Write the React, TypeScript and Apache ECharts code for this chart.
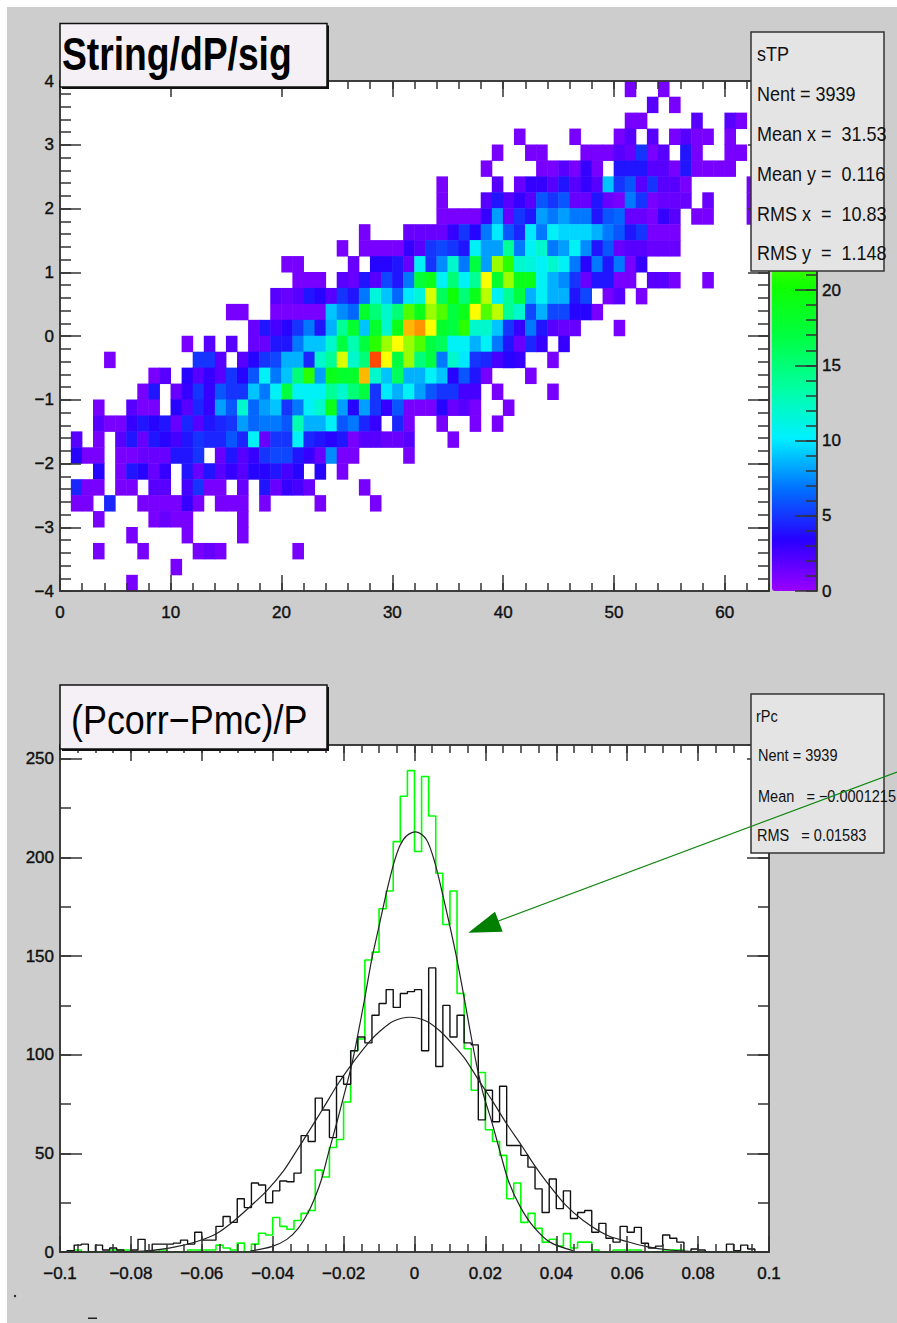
import React, { useEffect, useRef } from "react";
import * as echarts from "echarts";

// ---- 2D histogram: one list per row of bins, top row first: [first column, bin values...]
const heatRows: number[][] = [
  [51, 1, 0, 0, 1],
  [53, 2, 0, 1],
  [51, 1, 1, 0, 0, 0, 0, 2, 0, 0, 2, 1],
  [41, 1, 0, 0, 0, 0, 1, 0, 0, 0, 1, 2, 0, 2, 0, 1, 2, 1, 1, 0, 1],
  [39, 1, 0, 0, 1, 1, 0, 0, 0, 1, 1, 1, 2, 1.5, 5, 1, 2, 0, 4, 1, 0, 0, 1, 1],
  [38, 1, 0, 0, 0, 0, 1, 1, 2, 1, 3, 1, 0, 4, 4, 4, 2, 2, 1, 4, 1, 1, 1, 1],
  [34, 1, 0, 0, 0, 0, 2, 0, 1.5, 3, 3, 2, 4, 2, 3, 2, 9, 5, 6, 2, 5, 2, 2, 1, 0, 0, 0, 0, 0, 1],
  [34, 1, 0, 0, 0, 2, 4, 2, 3, 2, 6, 5, 6, 1.5, 1.5, 4, 1.5, 1, 7, 5, 1, 1.5, 1.5, 1.5, 0, 1.5, 0, 0, 0, 1],
  [34, 1, 1, 1, 1, 3, 8, 1.5, 5, 4, 8, 7, 8, 7, 7, 4, 6, 6.5, 1.5, 1.5, 1, 3, 2, 0, 1, 1, 0, 0, 0, 1],
  [27, 1, 0, 0, 0, 1.5, 1.5, 1.5, 1.5, 3, 5, 3.5, 7, 10, 6, 4.5, 10, 7, 10.5, 9.5, 9.5, 9.5, 8.5, 7, 6, 4, 5, 1, 1, 1],
  [25, 1, 0, 1, 1, 1, 1, 3, 2, 5, 5.5, 5, 4, 10.5, 8, 8, 14, 7, 10.5, 12, 7, 8, 10.5, 7.5, 4, 6, 1.5, 2, 2, 1.5, 1.5, 1.5],
  [20, 1, 1, 0, 0, 0, 0, 1.5, 0, 3.5, 3.5, 4, 1.5, 10.5, 5, 7.5, 12, 7, 17, 8, 24, 21, 12, 11.5, 10.5, 12, 10.5, 7, 3.5, 7, 4, 7, 1, 3],
  [21, 1, 1, 1, 0, 2, 1.5, 4, 2, 5.5, 4, 7, 17.5, 19, 10.5, 15, 10.5, 14, 27, 18, 24, 19, 19, 10.5, 8.5, 7.5, 5, 1.5, 4, 4, 1, 1, 0, 2, 2, 1, 0, 0, 1],
  [19, 2, 1.5, 2, 4, 3.5, 2, 5, 4, 7, 11.5, 9, 6.5, 10, 11.5, 26, 16, 20, 15, 19, 25, 10.5, 14, 17, 8.5, 10.5, 8.5, 8.5, 4, 5.5, 0, 1, 2, 0, 1],
  [15, 1, 1, 0, 0, 1, 1, 1, 1, 1, 9, 7.5, 6.5, 18, 15, 12, 15, 22, 19, 24, 22, 17, 19, 27, 22, 25, 14, 12, 5.5, 8.5, 5.5, 5.5, 3.5, 3.5, 1],
  [17, 1.5, 4, 2.5, 3.5, 5, 7, 4, 8.5, 14, 18, 9, 18, 12, 19, 29, 30, 27, 18, 17, 21, 12, 12, 9, 5, 3, 7, 4, 2, 1.5, 1.5, 0, 0, 0, 1],
  [11, 1, 0, 2, 0, 2, 0, 1.5, 1.5, 4, 4, 7, 9, 9, 12, 17, 13, 17, 21, 24, 27, 24, 22, 17, 16, 10.5, 10.5, 8.5, 10.5, 7, 4, 1.5, 4.5, 3, 0, 3],
  [4, 1, 0, 0, 0, 0, 0, 0, 0, 5, 5, 2, 0, 2, 3.5, 5, 5.5, 8.5, 8.5, 4.5, 12, 14, 26, 12, 15, 32, 27, 17, 24, 15, 17, 7, 12, 10, 5, 4.5, 2.5, 3.5, 3, 0, 0, 1],
  [8, 1, 2, 0, 3.5, 2, 3, 2, 5, 3.5, 6, 10.5, 7, 9, 15, 21, 8, 19, 18, 18, 29, 12, 9, 16, 8.5, 8.5, 10.5, 9, 3.5, 6, 4, 1, 0, 0, 0, 1],
  [7, 1, 4, 0, 1.5, 3, 5, 3, 6, 5, 5, 9, 7, 10.5, 17, 10.5, 10.5, 10.5, 14, 12, 15, 17, 5, 10, 8.5, 10.5, 8, 6, 5, 5, 2.5, 2.5, 0, 1, 0, 0, 0, 0, 1],
  [3, 1, 0, 0, 2, 1, 1, 0, 3.5, 2, 4.5, 3, 8, 6, 12, 6.5, 8, 9, 5, 7, 10.5, 12, 19, 8, 3.5, 8, 5, 3, 6, 1, 1, 1, 3.5, 1.5, 2, 1, 0, 0, 1],
  [3, 2, 1, 1, 3, 4, 3.5, 4, 1.5, 4.5, 2, 4, 4.5, 5, 8, 6.5, 7, 7, 6, 13, 8.5, 8.5, 10.5, 6, 7, 4.5, 3, 0, 4.5, 1, 0, 0, 1, 0, 0, 1, 0, 1],
  [1, 2, 0, 1, 0, 2, 4, 1.5, 4, 3.5, 2.5, 4, 5, 4.5, 4.5, 6, 4.5, 10.5, 1.5, 5, 5, 10.5, 4.5, 4, 3.5, 4, 1, 2, 2, 1.5, 1.5, 2, 0, 0, 0, 1],
  [1, 3.5, 1, 1, 0, 1, 1, 1.5, 1.5, 1.5, 4, 4, 5, 0, 1.5, 4, 2, 3, 5, 5.5, 5.5, 4, 3, 1.5, 7.5, 1, 1, 0, 0, 0, 0, 1],
  [3, 3.5, 0, 1, 4, 3.5, 1.5, 3, 0, 4, 1.5, 4, 2, 3, 2, 3.5, 3.5, 4, 2.5, 3.5, 0, 3.5, 0, 1],
  [1, 4.5, 1, 1, 0, 1, 1, 0, 2, 2, 0, 2.5, 5, 1, 1, 0, 1.5, 0, 4, 1.5, 3, 2.5, 1.5, 0, 0, 0, 0, 1],
  [1, 1, 1, 0, 4.5, 0, 0, 1, 1, 1, 1, 3, 1, 0, 1, 1, 1, 0, 1, 0, 0, 0, 0, 1, 0, 0, 0, 0, 1],
  [3, 1, 0, 0, 0, 0, 1, 1.5, 1, 1, 0, 0, 0, 0, 1],
  [6, 1, 0, 0, 0, 0, 1, 0, 0, 0, 0, 1],
  [3, 1, 0, 0, 0, 1, 0, 0, 0, 0, 1, 1.5, 1, 0, 0, 0, 0, 0, 0, 1],
  [10, 1],
  [6, 1],
];
const heatColumnBins: string[] = Array.from({ length: 64 }, (_, i) => String(i));
const heatRowBins: string[] = Array.from({ length: 32 }, (_, i) => String(i));
const heatColorMax = 33.9;
const heatPalette = ["#9a00ff", "#2800ff", "#0070ff", "#00f0ff", "#00ffa0", "#00ff40", "#10ff00", "#90ff00", "#ffff00", "#ff8000", "#ff0000"];

// ---- 1D histograms: 100 bins from -0.1 to 0.1
const histMin = -0.1;
const histBinWidth = 0.002;
const greenHist: number[] = [
  0, 0, 1, 0, 0, 0, 0, 1, 1, 1, 0, 0, 0, 0, 1, 0, 0, 0, 1, 1,
  1, 1, 3.5, 2, 1, 4.5, 0, 4, 9.5, 8.6, 17.5, 13, 11.5, 16, 19.6, 21, 41.5, 38, 53, 57,
  76, 102, 108, 148, 152, 174, 183, 208, 231, 244, 203, 241, 221, 192, 166, 183, 131, 103, 82, 91,
  62, 56, 49, 27, 35, 15, 19.6, 12, 5, 6.5, 3, 9.3, 2, 5, 5, 1, 0, 0, 1, 1,
  1, 1, 0, 0, 0, 1, 1, 1, 0, 0, 0, 0, 0, 0, 0, 0, 0, 0, 0, 0,
];
const blackHist: number[] = [
  0, 0.7, 3.5, 4, 0, 3.5, 1, 2, 1, 0, 1, 6.4, 0.5, 4, 4, 4, 4.5, 6, 4, 10,
  6, 6, 13, 18, 15, 27, 22.5, 35, 34, 25, 31, 36, 35.6, 40, 59, 56, 78, 72, 58, 89,
  85, 102, 109, 106, 120, 126, 133, 124, 131, 132, 133, 102, 144, 94, 125, 109, 120, 106, 105, 67,
  82, 66, 84, 54, 54, 49, 43, 32, 20, 37, 22, 31, 17, 20, 21, 10, 14.5, 7, 5, 13,
  10, 12.5, 4.4, 2, 3, 8.6, 7, 5, 0, 1.5, 1, 0, 0, 0, 4, 0.7, 3.5, 1.5, 0, 0,
];
// ---- fitted curves: [x, count]
const narrowFit: number[][] = [
  [-0.0464, 0.5], [-0.0403, 2.7], [-0.036, 6.4], [-0.0328, 12], [-0.03, 20], [-0.028, 28], [-0.0262, 37], [-0.0243, 50],
  [-0.022, 65], [-0.0201, 78], [-0.0177, 95], [-0.0161, 109], [-0.014, 129], [-0.0121, 148], [-0.0099, 166], [-0.0078, 183],
  [-0.006, 196], [-0.0041, 206], [-0.0022, 211], [0.0004, 213], [0.0034, 209], [0.0058, 197], [0.0081, 180], [0.01, 165],
  [0.0119, 149], [0.0138, 131], [0.0157, 112], [0.0175, 95], [0.0194, 80], [0.0218, 66], [0.0241, 51], [0.0265, 36],
  [0.0298, 23], [0.0335, 13], [0.0382, 5], [0.0447, 0.7],
];
const wideFit: number[][] = [
  [-0.085, 0.1], [-0.0746, 0.7], [-0.0671, 2.7], [-0.0614, 5.3], [-0.0558, 9.4], [-0.0511, 15.5], [-0.0464, 23], [-0.0417, 31],
  [-0.037, 41], [-0.0332, 51.5], [-0.0295, 62], [-0.0257, 73], [-0.022, 84], [-0.0182, 94], [-0.013, 106], [-0.0097, 112],
  [-0.006, 117], [-0.0013, 119], [0.0034, 117], [0.0072, 112], [0.0109, 105], [0.0142, 98], [0.0185, 86], [0.0222, 76],
  [0.026, 65], [0.0302, 54], [0.034, 43.5], [0.0377, 34.5], [0.0425, 24], [0.0476, 16], [0.0542, 8.6], [0.0599, 5.3],
  [0.0655, 2.7], [0.0721, 1], [0.08, 0.2],
];

// ---- texts
const topTitle = "String/dP/sig";
const bottomTitle = "(Pcorr\u2212Pmc)/P";
const topStats = ["sTP", "Nent = 3939", "Mean x =  31.53", "Mean y =  0.116", "RMS x  =  10.83", "RMS y  =  1.148"];
const bottomStats = ["rPc", "Nent = 3939", "Mean   = \u22120.0001215", "RMS   = 0.01583"];

const FONT = "Liberation Sans";
const INK = "#333333";

const fmt = (v: number) => {
  const s = String(+Math.abs(v).toFixed(3));
  return v < -1e-9 ? "\u2212" + s : s;
};

function tickAxis(grid: number, position: string, min: number, max: number, interval: number, length: number, label: any = null) {
  return {
    type: "value", gridIndex: grid, position, min, max, interval, z: 3,
    axisLine: { show: true, onZero: false, lineStyle: { color: INK, width: 1.5 } },
    axisTick: { show: true, inside: true, length, lineStyle: { color: INK, width: 1.5 } },
    axisLabel: label
      ? { show: true, fontFamily: FONT, fontSize: 17, color: "#111", textBorderColor: "#111", textBorderWidth: 0.4, formatter: fmt, ...label }
      : { show: false },
    splitLine: { show: false },
    minorTick: { show: false },
  };
}

function histPoints(values: number[]) {
  const pts = values.map((v, k) => [histMin + k * histBinWidth, v]);
  pts.push([histMin + values.length * histBinWidth, 0]);
  return pts;
}

function statsBox(x: number, y: number, w: number, h: number, lines: string[], ys: number[], fontSize: number, xs: number[], scaleX: number) {
  return [
    { type: "rect", z: 20, shape: { x, y, width: w, height: h }, style: { fill: "#e4e4e4", stroke: INK, lineWidth: 1.5 } },
    ...lines.map((t, i) => ({
      type: "text", z: 21, x: xs[i], y: ys[i], scaleX,
      style: { text: t, fontFamily: FONT, fontSize, fill: "#111", verticalAlign: "middle" },
    })),
  ];
}

function titleBox(y: number, h: number, text: string, tx: number, ty: number, fontSize: number, fontWeight: string, scaleX: number) {
  return [
    { type: "rect", z: 20, shape: { x: 62, y: y + 2, width: 267, height: h }, style: { fill: "#111" } },
    { type: "rect", z: 21, shape: { x: 60, y, width: 267, height: h }, style: { fill: "#f5f0f5", stroke: "#111", lineWidth: 1.5 } },
    {
      type: "text", z: 22, x: tx, y: ty, scaleX,
      style: { text, fontFamily: FONT, fontSize, fontWeight, fill: "#000", verticalAlign: "middle" },
    },
  ];
}

export default function App() {
  const ref = useRef<HTMLDivElement>(null);
  useEffect(() => {
    const chart = echarts.init(ref.current!, undefined, { renderer: "svg" });

    const heatData: number[][] = [];
    heatRows.forEach((row, r) => {
      row.slice(1).forEach((v, i) => {
        if (v > 0) heatData.push([row[0] + i, heatRows.length - 1 - r, v]);
      });
    });

    const hiddenCat = (grid: number, data: string[]) => ({ type: "category", gridIndex: grid, data, show: false, boundaryGap: true });

    const option: any = {
      animation: false,
      backgroundColor: "#ffffff",
      grid: [
        { left: 60, top: 81, width: 709, height: 510, show: true, backgroundColor: "#ffffff", borderWidth: 0 },
        { left: 60, top: 745, width: 709, height: 507, show: true, backgroundColor: "#ffffff", borderWidth: 0 },
        { left: 772, top: 81, width: 45, height: 510, show: false },
      ],
      visualMap: {
        type: "continuous", seriesIndex: 0, min: 0, max: heatColorMax, show: true, calculable: false,
        left: 772, top: 81, itemWidth: 45, itemHeight: 510, z: 1, padding: 0, text: undefined, showLabel: false,
        inRange: { color: heatPalette },
      },
      xAxis: [
        hiddenCat(0, heatColumnBins),
        tickAxis(0, "bottom", 0, 64, 10, 16, { margin: 13, showMaxLabel: false }),
        tickAxis(0, "bottom", 0, 64, 2, 8),
        tickAxis(0, "top", 0, 64, 10, 16),
        tickAxis(0, "top", 0, 64, 2, 8),
        tickAxis(1, "bottom", -0.1, 0.1, 0.02, 16, { margin: 13 }),
        tickAxis(1, "bottom", -0.1, 0.1, 0.005, 8),
        tickAxis(1, "top", -0.1, 0.1, 0.02, 16),
        tickAxis(1, "top", -0.1, 0.1, 0.005, 8),
        { type: "value", gridIndex: 2, min: 0, max: 1, show: false },
      ],
      yAxis: [
        hiddenCat(0, heatRowBins),
        tickAxis(0, "left", -4, 4, 1, 21, { margin: 6 }),
        tickAxis(0, "left", -4, 4, 0.2, 11),
        tickAxis(0, "right", -4, 4, 1, 21),
        tickAxis(0, "right", -4, 4, 0.2, 11),
        tickAxis(1, "left", 0, 257, 50, 22, { margin: 6, showMaxLabel: false }),
        tickAxis(1, "left", 0, 257, 25, 11),
        tickAxis(1, "right", 0, 257, 50, 22),
        tickAxis(1, "right", 0, 257, 25, 11),
        // labels above 20 lie behind the statistics box in the reference
        tickAxis(2, "right", 0, heatColorMax, 5, 22, {
          margin: 5, showMaxLabel: false, padding: [0, 0, 6, 0],
          formatter: (v: number) => (v <= 20 ? String(v) : ""),
        }),
        tickAxis(2, "right", 0, heatColorMax, 1, 11),
      ],
      series: [
        {
          type: "heatmap", xAxisIndex: 0, yAxisIndex: 0, data: heatData, z: 2,
          itemStyle: { borderWidth: 0 }, emphasis: { disabled: true },
        },
        {
          type: "line", xAxisIndex: 5, yAxisIndex: 5, step: "end", data: histPoints(greenHist),
          showSymbol: false, symbol: "none", z: 2, lineStyle: { color: "#00ff00", width: 1.6 },
        },
        {
          type: "line", xAxisIndex: 5, yAxisIndex: 5, step: "end", data: histPoints(blackHist),
          showSymbol: false, symbol: "none", z: 2, lineStyle: { color: "#111111", width: 1.4 },
        },
        {
          type: "line", xAxisIndex: 5, yAxisIndex: 5, smooth: 0.3, data: narrowFit,
          showSymbol: false, symbol: "none", z: 2, lineStyle: { color: "#222222", width: 1.2 },
        },
        {
          type: "line", xAxisIndex: 5, yAxisIndex: 5, smooth: 0.3, data: wideFit,
          showSymbol: false, symbol: "none", z: 2, lineStyle: { color: "#222222", width: 1.2 },
        },
      ],
      graphic: {
        elements: [
          { type: "rect", z: -10, shape: { x: 7, y: 7, width: 890, height: 1316 }, style: { fill: "#cdcdcd" } },
          { type: "circle", z: 5, shape: { cx: 15, cy: 1296, r: 1.2 }, style: { fill: "#222" } },
          { type: "rect", z: 5, shape: { x: 88, y: 1317.5, width: 9, height: 1.5 }, style: { fill: "#222" } },
          ...titleBox(23.5, 63.5, topTitle, 62, 54, 46, "bold", 0.81),
          ...titleBox(685, 64, bottomTitle, 71, 720, 41, "normal", 0.876),
          ...statsBox(751, 32, 133, 239, topStats, [54, 94, 134, 174, 214, 253], 20, [757, 757, 757, 757, 757, 757], 0.9),
          ...statsBox(751, 694, 133, 159, bottomStats, [716, 755, 796, 835], 16.5, [756, 758, 758, 757], 0.88),
          {
            type: "line", z: 25, shape: { x1: 897, y1: 772, x2: 497, y2: 921.5 },
            style: { stroke: "#118811", lineWidth: 1.2 },
          },
          {
            type: "polygon", z: 25, shape: { points: [[468.3, 932.7], [495, 911.7], [502.7, 931.7]] },
            style: { fill: "#007f00" },
          },
        ],
      },
    };
    chart.setOption(option);
    return () => chart.dispose();
  }, []);
  return <div ref={ref} style={{ position: "absolute", left: 0, top: 0, width: 897, height: 1323 }} />;
}
